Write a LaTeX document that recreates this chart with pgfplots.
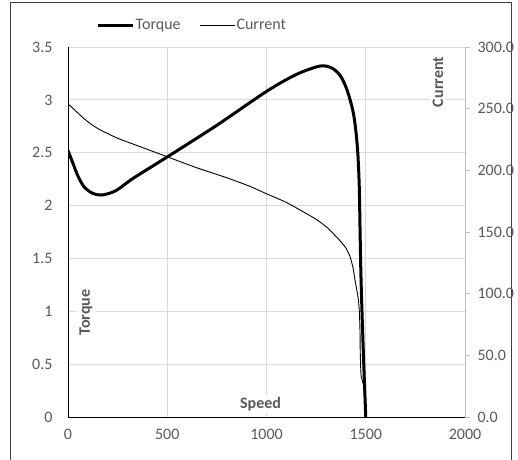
\documentclass[border=0pt]{standalone}
\usepackage{fontspec}
\setmainfont{Carlito}
\usepackage{pgfplots}
\pgfplotsset{compat=1.18}
\definecolor{txtgray}{HTML}{595959}
\definecolor{gridgray}{HTML}{D9D9D9}
\definecolor{axgray}{HTML}{BFBFBF}

\begin{document}
\fontsize{16pt}{19pt}\selectfont
\begin{tikzpicture}
\useasboundingbox (-68pt,-42pt) rectangle (450pt,417pt);
\draw[color=black!75, line width=0.8pt] (-58pt,-60pt) rectangle (443pt,415pt);

\begin{axis}[
    scale only axis,
    width=397pt, height=370pt,
    at={(0pt,0pt)}, anchor=south west,
    xmin=0, xmax=2000,
    ymin=0, ymax=3.5,
    xtick={0,500,1000,1500,2000},
    ytick={0,0.5,1,1.5,2,2.5,3,3.5},
    grid=major,
    grid style={draw=gridgray, line width=0.8pt},
    axis x line*=bottom, axis y line*=left,
    axis line style={-, black, line width=1pt},
    major tick length=0pt,
    tick style={draw=none},
    ticklabel style={font=\fontsize{16pt}{19pt}\selectfont, text=txtgray},
    /pgf/number format/assume math mode=true,
    /pgf/number format/1000 sep={},
    yticklabel style={xshift=-10pt},
    xticklabel style={yshift=-7pt},
]
% torque vs speed
\addplot[black, line width=3pt, smooth, tension=0.5] coordinates {
(0,2.52)(25,2.40)(50,2.28)(80,2.18)(120,2.12)(170,2.10)(240,2.14)(330,2.26)(500,2.46)(750,2.76)(1000,3.08)(1150,3.24)(1270,3.32)(1330,3.30)(1375,3.22)(1410,3.07)(1440,2.85)(1458,2.55)(1467,2.2)(1471,1.8)(1475,1.4)(1481,1.0)(1490,0.5)(1500,0)
};
\node[rotate=90, fill=white, inner sep=3pt, text=txtgray, font=\fontsize{16pt}{19pt}\selectfont\bfseries] at (axis cs:91,0.99) {Torque};
\node[anchor=base, fill=white, inner sep=3pt, text=txtgray, font=\fontsize{16pt}{19pt}\selectfont\bfseries] at (axis cs:970,0.085) {Speed};
\node[rotate=90, fill=white, inner sep=3pt, text=txtgray, font=\fontsize{16pt}{19pt}\selectfont\bfseries] at (axis cs:1864,3.17) {Current};
\end{axis}

\begin{axis}[
    scale only axis,
    width=397pt, height=370pt,
    at={(0pt,0pt)}, anchor=south west,
    xmin=0, xmax=2000,
    ymin=0, ymax=300,
    axis x line=none,
    axis y line*=right,
    axis line style={-, axgray, line width=0.8pt},
    ytick={0,50,100,150,200,250,300},
    tick align=outside,
    major tick length=5pt,
    ytick style={axgray, line width=0.8pt},
    ticklabel style={font=\fontsize{16pt}{19pt}\selectfont, text=txtgray},
    /pgf/number format/assume math mode=true,
    yticklabel={\pgfmathprintnumber[fixed,fixed zerofill,precision=1]{\tick}},
    yticklabel style={xshift=2pt},
    legend style={at={(0.312,1.057)}, anchor=center, draw=none, fill=none,
        font=\fontsize{16pt}{19pt}\selectfont, text=txtgray,
        legend columns=2,
        nodes={inner sep=1pt},
        /tikz/every even column/.append style={column sep=18pt}},
    legend image code/.code={\draw[#1] (0pt,0pt) -- (35pt,0pt);},
]
\addlegendimage{black, line width=3pt}
\addlegendentry{Torque}
% current vs speed
\addplot[black, line width=0.9pt, smooth, tension=0.3] coordinates {
(0,254)(40,248)(80,242)(120,237)(160,233)(250,226)(350,220)(500,211)(650,202)(800,194)(917,187)(1000,181)(1100,174)(1200,165)(1253,160)(1310,153)(1370,143)(1400,137)(1421,130)(1436,121)(1446,111)(1456,102)(1463,95)(1468,85)(1471,70)(1472,55)(1474,42)(1477,33)(1487,27)(1497,12)(1500,0)
};
\addlegendentry{Current}
\end{axis}
\end{tikzpicture}
\end{document}
